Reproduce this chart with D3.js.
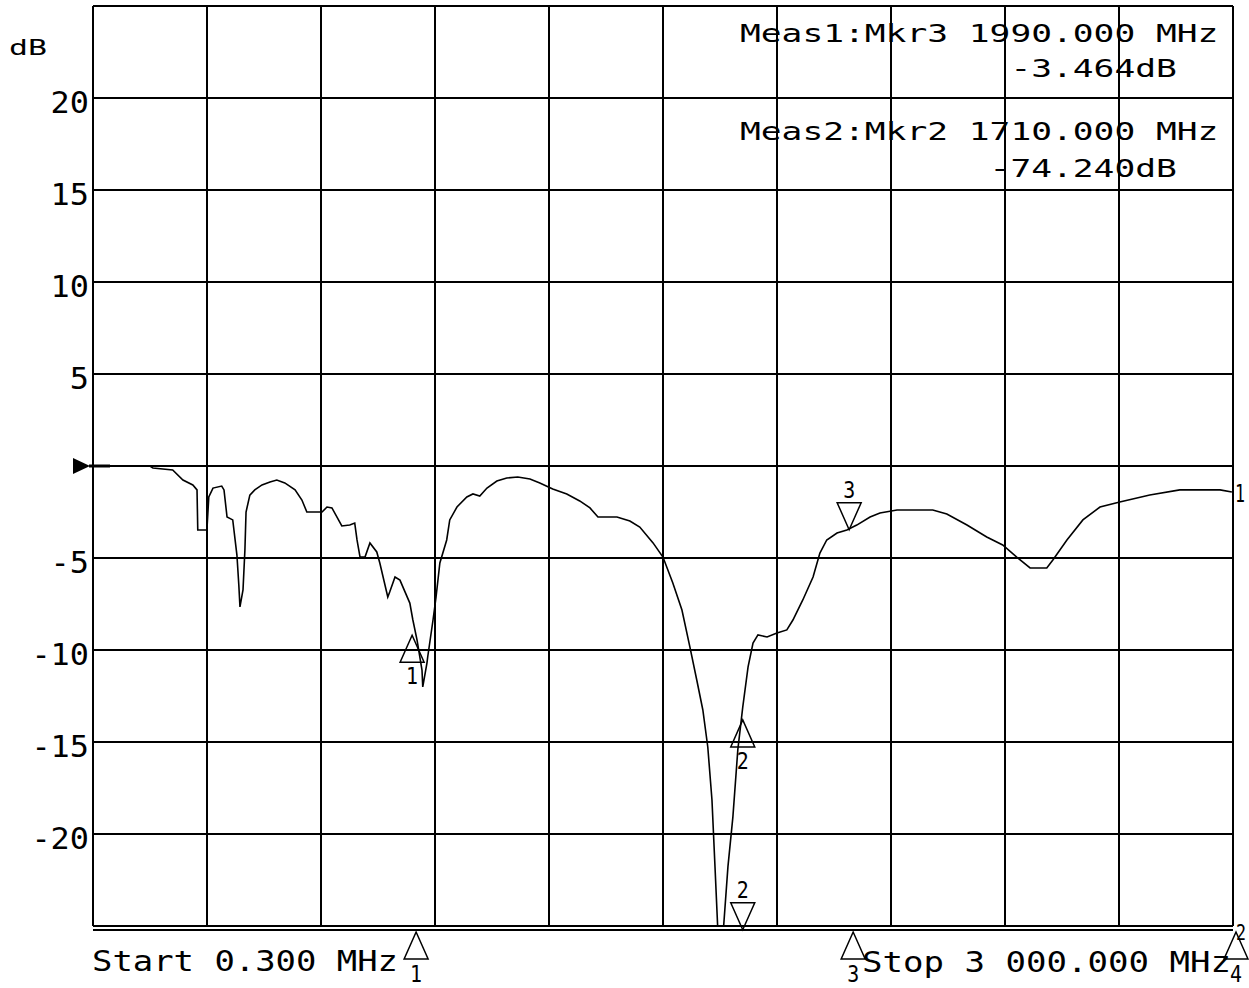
<!DOCTYPE html>
<html>
<head>
<meta charset="utf-8">
<script src="https://cdn.jsdelivr.net/npm/d3@7"></script>
<style>
  html, body { margin: 0; padding: 0; background: #fff; }
  svg text { font-family: "DejaVu Sans Mono", monospace; white-space: pre; fill: #000; }
</style>
</head>
<body>
<div id="chart"></div>
<script>
// sweep trace
const freqMHz = [0, 150, 158, 210, 237, 263, 274, 276, 300, 305, 316, 339, 345, 353, 368, 379, 384, 387, 395, 400, 403,
  413, 426, 445, 466, 484, 505, 532, 550, 563, 603, 616, 629, 655, 676, 689, 695, 703, 716, 729, 747, 755, 776, 781,
  795, 808, 834, 842, 853, 866, 868, 879, 881, 895, 903, 913, 931, 939, 958, 984, 1000, 1018, 1037, 1063, 1089, 1118,
  1150, 1176, 1210, 1247, 1281, 1308, 1329, 1379, 1413, 1439, 1474, 1500, 1526, 1550, 1571, 1589, 1605, 1618, 1629,
  1637, 1645, 1651, 1658, 1671, 1684, 1697, 1710, 1724, 1737, 1750, 1774, 1800, 1826, 1842, 1868, 1895, 1913, 1931,
  1958, 1984, 2010, 2045, 2071, 2116, 2210, 2247, 2300, 2352, 2394, 2431, 2466, 2510, 2526, 2563, 2605, 2650, 2702,
  2781, 2860, 2966, 2997];
const traceDb = [0, 0, -0.11, -0.22, -0.76, -1.03, -1.3, -3.48, -3.48, -1.68, -1.2, -1.09, -1.3, -2.77, -2.93, -4.84,
  -6.47, -7.66, -6.74, -4.57, -2.5, -1.58, -1.3, -1.03, -0.87, -0.76, -0.92, -1.3, -1.85, -2.5, -2.5, -2.23, -2.28,
  -3.26, -3.21, -3.1, -4.02, -4.95, -4.95, -4.18, -4.67, -5.27, -7.12, -6.85, -6.03, -6.2, -7.45, -8.37, -9.46, -11.09,
  -12.01, -10.71, -10.38, -8.37, -7.12, -5.27, -4.02, -2.93, -2.23, -1.68, -1.52, -1.63, -1.2, -0.82, -0.65, -0.6,
  -0.71, -0.92, -1.25, -1.52, -1.9, -2.28, -2.77, -2.77, -2.99, -3.32, -4.18, -4.95, -6.36, -7.83, -9.84, -11.63,
  -13.26, -15.27, -18.15, -21.79, -25.5, -40, -25.5, -21.79, -19.08, -15.43, -13.1, -10.92, -9.62, -9.18, -9.29,
  -9.08, -8.91, -8.37, -7.28, -6.03, -4.73, -4.02, -3.64, -3.48, -3.21, -2.77, -2.55, -2.39, -2.39, -2.61, -3.21,
  -3.86, -4.29, -4.95, -5.54, -5.54, -5.11, -4.02, -2.93, -2.23, -1.96, -1.58, -1.3, -1.3, -1.41];

const yTicks = [20, 15, 10, 5, -5, -10, -15, -20];

// markers on the trace
const mkrLabel = ["1", "2", "2", "3"];
const mkrFreq = [840, 1710, 1710, 1990];
const mkrDb = [-9.2, -13.8, -74.24, -3.464];
const mkrDir = ["up", "up", "down", "down"];

// marker flags under the frequency axis
const axisMkrLabel = ["1", "3", "4"];
const axisMkrFreq = [840, 1990, 3000];

const readout = [
  { text: "Meas1:Mkr3 1990.000 MHz", col: 0, row: 0 },
  { text: "-3.464dB", col: 13, row: 1 },
  { text: "Meas2:Mkr2 1710.000 MHz", col: 0, row: 2 },
  { text: "-74.240dB", col: 12, row: 3 }
];

const width = 1249;
const height = 988;

const svg = d3.select("#chart").append("svg")
  .attr("width", width)
  .attr("height", height);

const x = d3.scaleLinear().domain([0.3, 3000]).range([93, 1233]);
const y = d3.scaleLinear().domain([-25, 25]).range([926, 6]);

function label(str, px, py, size, advance) {
  return svg.append("text")
    .attr("x", px)
    .attr("y", py)
    .attr("font-size", size)
    .attr("textLength", str.length * advance)
    .attr("lengthAdjust", "spacingAndGlyphs")
    .text(str);
}

// grid
const xGrid = d3.range(11).map((i) => 0.3 + (i * (3000 - 0.3)) / 10);
const yGrid = d3.range(-25, 26, 5);

svg.append("g")
  .selectAll("line")
  .data(xGrid)
  .join("line")
  .attr("x1", (d) => x(d))
  .attr("x2", (d) => x(d))
  .attr("y1", y(25))
  .attr("y2", y(-25))
  .attr("stroke", "#000")
  .attr("stroke-width", 2);

svg.append("g")
  .selectAll("line")
  .data(yGrid)
  .join("line")
  .attr("x1", x(0.3))
  .attr("x2", x(3000))
  .attr("y1", (d) => y(d))
  .attr("y2", (d) => y(d))
  .attr("stroke", "#000")
  .attr("stroke-width", 2);

// second line under the bottom edge
svg.append("line")
  .attr("x1", x(0.3))
  .attr("x2", x(3000))
  .attr("y1", y(-25) + 4)
  .attr("y2", y(-25) + 4)
  .attr("stroke", "#000")
  .attr("stroke-width", 2);

// y labels
yTicks.forEach((t) => {
  const s = String(t);
  label(s, 89 - s.length * 19.2, y(t) + 15, 31, 19.2);
});
label("dB", 9, 55, 21, 19);

// reference level marker
svg.append("path")
  .attr("d", `M${x(0.3) - 20},${y(0) - 8} L${x(0.3) - 3},${y(0)} L${x(0.3) - 20},${y(0) + 8} Z`)
  .attr("fill", "#000");
svg.append("line")
  .attr("x1", x(0.3) - 4)
  .attr("x2", x(0.3) + 17)
  .attr("y1", y(0))
  .attr("y2", y(0))
  .attr("stroke", "#000")
  .attr("stroke-width", 3);

// trace
svg.append("clipPath").attr("id", "plot-clip")
  .append("rect")
  .attr("x", x(0.3))
  .attr("y", y(25))
  .attr("width", x(3000) - x(0.3))
  .attr("height", y(-25) - y(25));

const line = d3.line()
  .x((d) => x(d[0]))
  .y((d) => y(d[1]));

svg.append("path")
  .datum(freqMHz.map((f, i) => [f, traceDb[i]]))
  .attr("clip-path", "url(#plot-clip)")
  .attr("d", line)
  .attr("fill", "none")
  .attr("stroke", "#000")
  .attr("stroke-width", 1.6);

// trace number at the right end
label("1", 1235, 502, 25, 10);

// markers on the trace
const triW = 12;
const triH = 27;
mkrFreq.forEach((f, i) => {
  const px = x(f);
  const py = y(Math.max(mkrDb[i], -25.2));
  if (mkrDir[i] === "up") {
    svg.append("path")
      .attr("d", `M${px},${py} L${px - triW},${py + triH} L${px + triW},${py + triH} Z`)
      .attr("fill", "none")
      .attr("stroke", "#000")
      .attr("stroke-width", 1.5);
    label(mkrLabel[i], px - 6, py + triH + 22, 23, 12);
  } else {
    svg.append("path")
      .attr("d", `M${px},${py} L${px - triW},${py - triH} L${px + triW},${py - triH} Z`)
      .attr("fill", "none")
      .attr("stroke", "#000")
      .attr("stroke-width", 1.5);
    label(mkrLabel[i], px - 6, py - triH - 5, 23, 12);
  }
});

// marker flags under the axis
axisMkrFreq.forEach((f, i) => {
  const px = Math.min(x(f) + 4, width - 13);
  const py = y(-25) + 6;
  svg.append("path")
    .attr("d", `M${px},${py} L${px - triW},${py + triH} L${px + triW},${py + triH} Z`)
    .attr("fill", "none")
    .attr("stroke", "#000")
    .attr("stroke-width", 1.5);
  label(axisMkrLabel[i], px - 6, py + triH + 23, 23, 12);
});
label("2", 1236, 940, 22, 10);

// start / stop
label("Start 0.300 MHz", 92, 971, 29, 20.4);
label("Stop 3 000.000 MHz", 862, 972, 29, 20.5);

// marker readout, top right
const rowY = [42, 77, 140, 177];
readout.forEach((r) => {
  label(r.text, 740 + r.col * 20.8, rowY[r.row], 24, 20.8);
});
</script>
</body>
</html>
